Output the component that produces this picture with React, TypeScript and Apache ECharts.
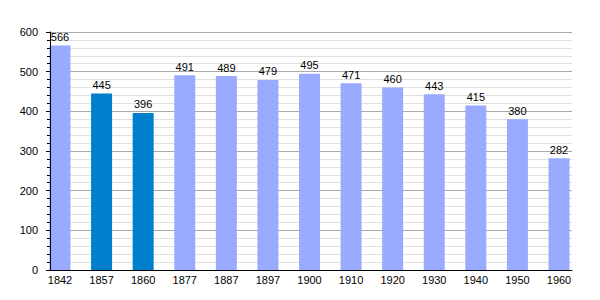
import React, { useEffect, useRef } from "react";
import * as echarts from "echarts";

const years = ["1842", "1857", "1860", "1877", "1887", "1897", "1900", "1910", "1920", "1930", "1940", "1950", "1960"];
const population = [566, 445, 396, 491, 489, 479, 495, 471, 460, 443, 415, 380, 282];
const highlighted = ["1857", "1860"];
const lightColor = "#99aaff";
const darkColor = "#0080cc";
const FONT = "'Liberation Sans', Arial, sans-serif";

export default function App() {
  const ref = useRef<HTMLDivElement>(null);
  useEffect(() => {
    document.body.style.margin = "0";
    if (!ref.current) return;
    const chart = echarts.init(ref.current, null, { renderer: "svg" });
    chart.setOption({
      animation: false,
      backgroundColor: "#fff",
      textStyle: { fontFamily: FONT },
      grid: [
        { left: 50, right: 28, top: 32, bottom: 30 },
        { left: 60, right: 41, top: 32, bottom: 30 },
      ],
      xAxis: [
        {
          gridIndex: 0,
          type: "value",
          min: 0,
          max: 1,
          z: 10,
          axisLine: { show: true, onZero: false, lineStyle: { color: "#000", width: 1 } },
          axisTick: { show: false },
          axisLabel: { show: false },
          splitLine: { show: false },
        },
        {
          gridIndex: 1,
          type: "category",
          data: years,
          boundaryGap: false,
          axisLine: { show: false },
          axisTick: { show: false },
          axisLabel: { color: "#000", fontSize: 11, margin: 4, fontFamily: FONT },
          splitLine: { show: false },
        },
      ],
      yAxis: [
        {
          gridIndex: 0,
          type: "value",
          min: 0,
          max: 600,
          interval: 100,
          z: 0,
          axisLine: { show: false },
          axisTick: { show: false },
          axisLabel: { show: false },
          splitLine: { show: true, lineStyle: { color: "#aaaaaa", width: 1 } },
          minorSplitLine: { show: true, lineStyle: { color: "#e0e0e0", width: 1 } },
          minorTick: { show: false, splitNumber: 5 },
        },
        {
          gridIndex: 1,
          type: "value",
          min: 0,
          max: 600,
          show: false,
        },
        {
          gridIndex: 0,
          type: "value",
          position: "left",
          min: 0,
          max: 600,
          interval: 100,
          z: 10,
          axisLine: { show: true, onZero: false, lineStyle: { color: "#000", width: 1 } },
          axisTick: { show: true, length: 4, lineStyle: { color: "#000" } },
          minorTick: { show: true, splitNumber: 5, length: 3, lineStyle: { color: "#000" } },
          axisLabel: { color: "#000", fontSize: 11, margin: 12, fontFamily: FONT },
          splitLine: { show: false },
          minorSplitLine: { show: false },
        },
      ],
      series: [
        {
          type: "bar",
          xAxisIndex: 1,
          yAxisIndex: 1,
          barWidth: 21,
          clip: false,
          data: population.map((v, i) => ({
            value: v,
            itemStyle: { color: highlighted.includes(years[i]) ? darkColor : lightColor },
          })),
          label: {
            show: true,
            position: "top",
            distance: 3,
            color: "#000",
            fontSize: 11,
            fontFamily: FONT,
          },
        },
      ],
    });
    return () => chart.dispose();
  }, []);
  return <div ref={ref} style={{ width: 600, height: 300 }} />;
}
